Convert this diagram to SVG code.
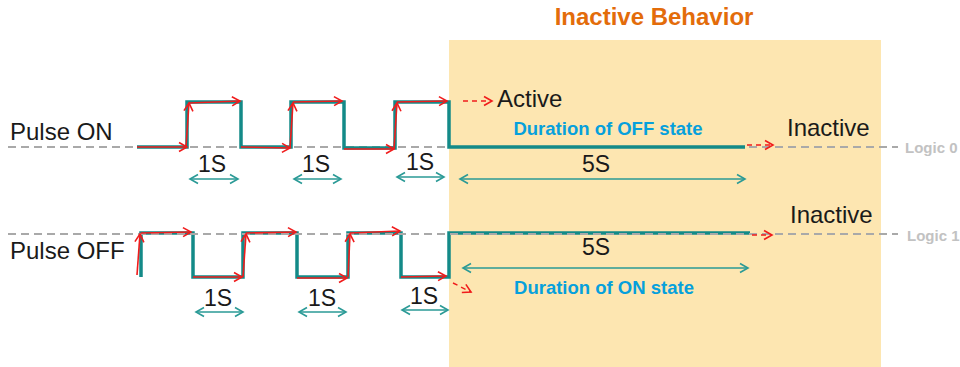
<svg xmlns="http://www.w3.org/2000/svg" width="960" height="367" viewBox="0 0 960 367">
<style>
  text { font-family: "Liberation Sans", Arial, sans-serif; }
  .lbl { font-size: 24px; fill: #1a1a1a; }
  .sec { font-size: 23px; fill: #1a1a1a; text-anchor: middle; }
  .dur { font-size: 18.5px; font-weight: bold; fill: #06A0DC; text-anchor: middle; }
  .logic { font-size: 15px; font-weight: bold; fill: #C2C2C2; }
  .wave { fill: none; stroke: #138A88; stroke-width: 3.5; stroke-linejoin: miter; }
  .ref { fill: none; stroke: #A9A9A9; stroke-width: 2; stroke-dasharray: 8 5; }
  .red { fill: none; stroke: #F01C1C; stroke-width: 1.6; marker-end: url(#rh); }
  .reddash { fill: none; stroke: #F01C1C; stroke-width: 1.4; stroke-dasharray: 5 4; marker-end: url(#rh); }
  .dim { fill: none; stroke: #2A9A96; stroke-width: 1.6; marker-start: url(#th); marker-end: url(#th); }
</style>
<defs>
  <marker id="rh" markerUnits="userSpaceOnUse" markerWidth="12" markerHeight="12" refX="9" refY="5" orient="auto" viewBox="0 0 12 10">
    <path d="M1,0.5 L9,5 L1,9.5" fill="none" stroke="#F01C1C" stroke-width="1.6"/>
  </marker>
  <marker id="th" markerUnits="userSpaceOnUse" markerWidth="12" markerHeight="12" refX="9" refY="5" orient="auto-start-reverse" viewBox="0 0 12 10">
    <path d="M1,0.5 L9,5 L1,9.5" fill="none" stroke="#2A9A96" stroke-width="1.6"/>
  </marker>
</defs>

<g id="inactive-region">
  <rect x="449" y="40" width="432" height="327" fill="#FDE6B1"/>
  <text x="654" y="25" font-size="24" font-weight="bold" fill="#E36C0A" text-anchor="middle">Inactive Behavior</text>
</g>

<g id="reference-lines">
  <line class="ref" x1="8" y1="147" x2="898" y2="147"/>
  <text class="logic" x="905" y="153">Logic 0</text>
  <text class="logic" x="907" y="241">Logic 1</text>
</g>

<g id="pulse-on">
  <text class="lbl" x="10" y="140">Pulse ON</text>
  <path class="wave" d="M137,147 H187 V102 H241 V147 H291 V102 H344 V148 H395 V102 H449 V147 H745"/>
  <text class="sec" x="212" y="172">1S</text>
  <text class="sec" x="316" y="172">1S</text>
  <text class="sec" x="420" y="170">1S</text>
  <text class="lbl" x="497" y="107">Active</text>
  <text class="dur" x="608" y="135">Duration of OFF state</text>
  <text class="sec" x="596" y="172">5S</text>
  <text class="lbl" x="787" y="136">Inactive</text>
</g>

<g id="pulse-off">
  <text class="lbl" x="10" y="259">Pulse OFF</text>
  <path class="wave" d="M141,277 V233 H193 V277 H243 V233 H297 V277 H348 V233 H401 V277 H449 V233 H750"/>
  <line class="ref" x1="8" y1="234" x2="898" y2="234"/>
  <text class="sec" x="218" y="306">1S</text>
  <text class="sec" x="322" y="306">1S</text>
  <text class="sec" x="424" y="304">1S</text>
  <text class="sec" x="596" y="255">5S</text>
  <text class="dur" x="604" y="294">Duration of ON state</text>
  <text class="lbl" x="790" y="223">Inactive</text>
</g>

<g id="connectors">
  <!-- Pulse ON red tracing -->
  <path class="red" d="M137,147 L187,147"/>
  <path class="red" d="M186,147 L189,103"/>
  <path class="red" d="M189,103 L240,101"/>
  <path class="red" d="M241,147 L290,148"/>
  <path class="red" d="M290,148 L293,103"/>
  <path class="red" d="M293,102 L342,101"/>
  <path class="red" d="M344,149 L394,149"/>
  <path class="red" d="M394,149 L397,103"/>
  <path class="red" d="M397,102 L447,101"/>
  <path class="reddash" d="M463,101 L492,101"/>
  <path class="reddash" d="M747,145 L773,145"/>
  <!-- Pulse OFF red tracing -->
  <path class="red" d="M137,275 L140,234"/>
  <path class="red" d="M141,233 L191,232"/>
  <path class="red" d="M193,277 L242,277"/>
  <path class="red" d="M243,277 L246,234"/>
  <path class="red" d="M246,233 L296,232"/>
  <path class="red" d="M297,278 L347,278"/>
  <path class="red" d="M348,277 L350,234"/>
  <path class="red" d="M350,233 L400,231"/>
  <path class="red" d="M401,277 L446,276"/>
  <path class="reddash" d="M453,283 L471,292"/>
  <path class="reddash" d="M752,235 L772,235"/>
  <!-- time dimension arrows -->
  <line class="dim" x1="190" y1="179" x2="238" y2="179"/>
  <line class="dim" x1="294" y1="179" x2="341" y2="179"/>
  <line class="dim" x1="397" y1="177" x2="444" y2="177"/>
  <line class="dim" x1="460" y1="179" x2="745" y2="179"/>
  <line class="dim" x1="196" y1="312" x2="243" y2="312"/>
  <line class="dim" x1="299" y1="312" x2="346" y2="312"/>
  <line class="dim" x1="402" y1="310" x2="448" y2="310"/>
  <line class="dim" x1="463" y1="268" x2="748" y2="268"/>
</g>
</svg>
